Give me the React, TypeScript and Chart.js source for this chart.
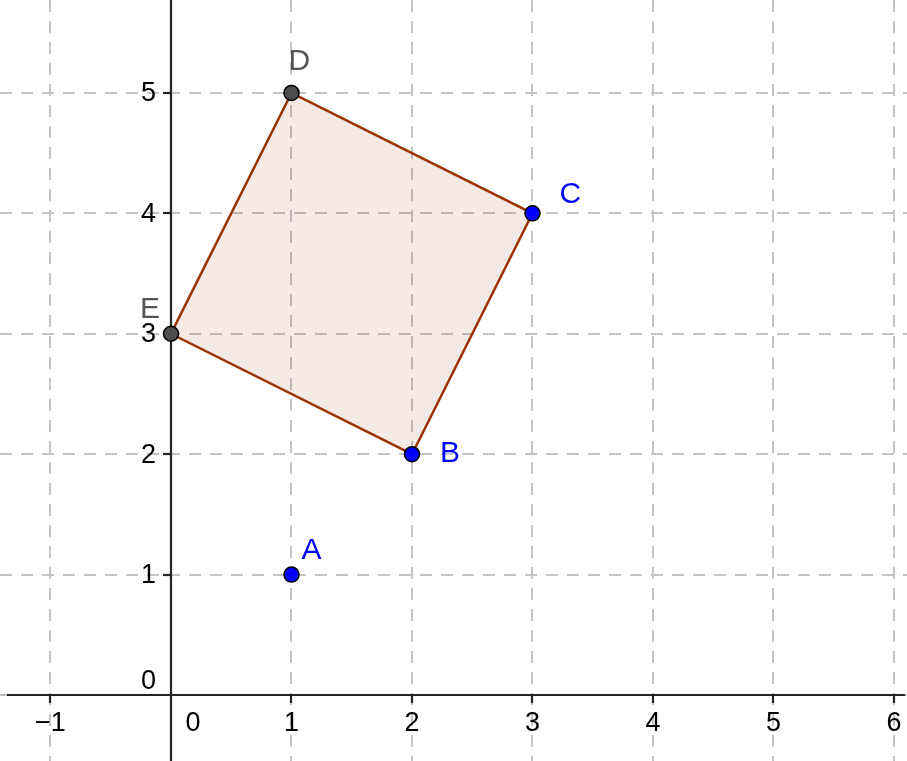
import React, { useEffect, useRef } from "react";
import { Chart, registerables } from "chart.js";

Chart.register(...registerables);

// Axis ranges and ticks
const xRange = [-1.419, 6.108];
const yRange = [-0.548, 5.772];
const xTicks = [-1, 1, 2, 3, 4, 5, 6];
const yTicks = [1, 2, 3, 4, 5];
const xTickLabels = ["−1", "1", "2", "3", "4", "5", "6"];
const yTickLabels = ["1", "2", "3", "4", "5"];

// Points
const pointNames = ["A", "B", "C", "D", "E"];
const pointX = [1, 2, 3, 1, 0];
const pointY = [1, 2, 4, 5, 3];

// Polygon vertices (by name), closed
const polygonVertices = ["B", "C", "D", "E", "B"];

// Which points are free (blue) vs dependent (dark gray)
const bluePoints = ["A", "B", "C"];
const grayPoints = ["D", "E"];

const BLUE = "#0000ff";
const GRAY_PT = "#4d4d4d";
const GRAY_LABEL = "#555555";
const FONT = '"Liberation Sans", Arial, sans-serif';

// label offsets (pixels relative to point)
const labelOffsets: Record<string, [number, number]> = {
  A: [10, -16],
  B: [28, 8],
  C: [27, -10],
  D: [-3, -23],
  E: [-31, -16],
};

function pt(name: string) {
  const i = pointNames.indexOf(name);
  return { x: pointX[i], y: pointY[i] };
}

const gridPlugin = {
  id: "geoGrid",
  beforeDatasetsDraw(chart: any) {
    const { ctx, chartArea, scales } = chart;
    const xs = scales.x;
    const ys = scales.y;
    ctx.save();
    // dashed grid
    ctx.strokeStyle = "#c4c4c4";
    ctx.lineWidth = 2;
    ctx.setLineDash([12, 9]);
    const allX = [-1, 0, 1, 2, 3, 4, 5, 6];
    const allY = [0, 1, 2, 3, 4, 5];
    for (const v of allX) {
      const px = Math.round(xs.getPixelForValue(v));
      ctx.beginPath();
      ctx.moveTo(px, chartArea.top);
      ctx.lineTo(px, chartArea.bottom);
      ctx.stroke();
    }
    for (const v of allY) {
      const py = Math.round(ys.getPixelForValue(v));
      ctx.beginPath();
      ctx.moveTo(chartArea.left, py);
      ctx.lineTo(chartArea.right, py);
      ctx.stroke();
    }
    // axes
    const ox = Math.round(xs.getPixelForValue(0));
    const oy = Math.round(ys.getPixelForValue(0));
    ctx.setLineDash([]);
    ctx.strokeStyle = "#252525";
    ctx.lineWidth = 2.2;
    ctx.beginPath();
    ctx.moveTo(chartArea.left + 7, oy);
    ctx.lineTo(chartArea.right - 2, oy);
    ctx.stroke();
    ctx.beginPath();
    ctx.moveTo(ox, chartArea.top);
    ctx.lineTo(ox, chartArea.bottom);
    ctx.stroke();
    // tick marks
    for (const v of xTicks) {
      const px = Math.round(xs.getPixelForValue(v));
      ctx.beginPath();
      ctx.moveTo(px, oy);
      ctx.lineTo(px, oy + 8);
      ctx.stroke();
    }
    for (const v of yTicks) {
      const py = Math.round(ys.getPixelForValue(v));
      ctx.beginPath();
      ctx.moveTo(ox, py);
      ctx.lineTo(ox - 8, py);
      ctx.stroke();
    }
    // tick labels
    ctx.fillStyle = "#000";
    ctx.font = `27px ${FONT}`;
    ctx.textAlign = "center";
    ctx.textBaseline = "middle";
    xTicks.forEach((v, i) => {
      const px = xs.getPixelForValue(v);
      ctx.fillText(xTickLabels[i], px, oy + 29);
    });
    ctx.fillText("0", ox + 22, oy + 29);
    ctx.textAlign = "right";
    yTicks.forEach((v, i) => {
      const py = ys.getPixelForValue(v);
      ctx.fillText(yTickLabels[i], ox - 15, py + 1);
    });
    ctx.fillText("0", ox - 15, oy - 13);
    ctx.restore();
  },
  afterDraw(chart: any) {
    const { ctx, scales } = chart;
    const xs = scales.x;
    const ys = scales.y;
    ctx.save();
    ctx.font = `30px ${FONT}`;
    ctx.textAlign = "left";
    ctx.textBaseline = "alphabetic";
    pointNames.forEach((n, i) => {
      const px = xs.getPixelForValue(pointX[i]);
      const py = ys.getPixelForValue(pointY[i]);
      const off = labelOffsets[n];
      ctx.fillStyle = bluePoints.includes(n) ? BLUE : GRAY_LABEL;
      ctx.fillText(n, px + off[0], py + off[1]);
    });
    ctx.restore();
  },
};

export default function App() {
  const ref = useRef<HTMLCanvasElement>(null);
  useEffect(() => {
    if (!ref.current) return;
    const chart = new Chart(ref.current, {
      type: "scatter",
      data: {
        datasets: [
          {
            label: "poly",
            data: polygonVertices.map(pt),
            showLine: true,
            fill: "shape",
            backgroundColor: "rgba(153,51,0,0.1)",
            borderColor: "#993300",
            borderWidth: 2.5,
            pointRadius: 0,
            pointHoverRadius: 0,
            tension: 0,
            order: 5,
          } as any,
          {
            label: "gray",
            data: grayPoints.map(pt),
            backgroundColor: GRAY_PT,
            borderColor: "#000",
            borderWidth: 1.5,
            pointRadius: 7.5,
            pointHoverRadius: 7.5,
            order: 1,
            clip: false,
          } as any,
          {
            label: "blue",
            data: bluePoints.map(pt),
            backgroundColor: BLUE,
            borderColor: "#000",
            borderWidth: 1.5,
            pointRadius: 7.5,
            pointHoverRadius: 7.5,
            order: 0,
            clip: false,
          } as any,
        ],
      },
      options: {
        responsive: false,
        animation: false,
        events: [],
        layout: { padding: 0, autoPadding: false },
        plugins: {
          legend: { display: false },
          tooltip: { enabled: false },
        },
        scales: {
          x: { type: "linear", display: false, min: xRange[0], max: xRange[1] },
          y: { type: "linear", display: false, min: yRange[0], max: yRange[1] },
        },
      } as any,
      plugins: [gridPlugin],
    });
    return () => chart.destroy();
  }, []);
  return (
    <div style={{ position: "fixed", left: 0, top: 0, width: 907, height: 761, background: "#fff" }}>
      <canvas ref={ref} width={907} height={761} style={{ display: "block" }} />
    </div>
  );
}
